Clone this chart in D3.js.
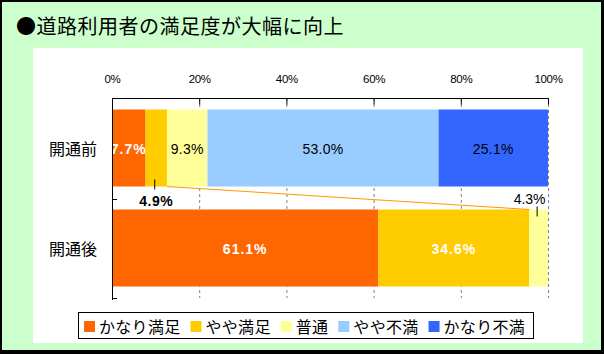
<!DOCTYPE html>
<html><head><meta charset="utf-8">
<script src="https://cdn.jsdelivr.net/npm/d3@7"></script>
<style>body{margin:0;padding:0;background:#fff}svg{display:block}</style>
</head><body>
<svg id="c" width="604" height="354"></svg>
<script>
const title = "●道路利用者の満足度が大幅に向上";
const categories = ["開通前", "開通後"];
const seriesNames = ["かなり満足", "やや満足", "普通", "やや不満", "かなり不満"];
const before = [7.7, 4.9, 9.3, 53.0, 25.1];
const after = [61.1, 34.6, 4.3, 0, 0];
const tickValues = [0, 20, 40, 60, 80, 100];
const tickLabels = ["0%", "20%", "40%", "60%", "80%", "100%"];
const colors = ["#FF6600", "#FFCC00", "#FFFF99", "#99CCFF", "#3366FF"];

const jp = "'Noto Sans CJK JP', 'Noto Sans', sans-serif";
const num = "'Liberation Sans', Arial, sans-serif";
const svg = d3.select("#c");

// background & border
svg.append("rect").attr("x",0).attr("y",0).attr("width",604).attr("height",354).attr("fill","#000");
svg.append("rect").attr("x",2).attr("y",2).attr("width",599).attr("height",348).attr("fill","#CCFFCC");
svg.append("rect").attr("x",33).attr("y",48).attr("width",550).attr("height",295).attr("fill","#fff");

svg.append("text").attr("x",16).attr("y",25).attr("dominant-baseline","central")
  .attr("font-family",jp).attr("font-size",20).attr("letter-spacing",0.5).attr("fill","#000").text(title);

const x = d3.scaleLinear().domain([0,100]).range([112,548]);
const y = d3.scaleBand().domain(categories).range([98,298]).paddingInner(0.23).paddingOuter(0.115);
const rows = [before, after];

// gridlines
const g = svg.append("g");
g.selectAll("line.grid").data(tickValues.slice(1)).join("line")
  .attr("x1",d=>x(d)+0.5).attr("x2",d=>x(d)+0.5).attr("y1",98).attr("y2",298)
  .attr("stroke","#808080").attr("stroke-dasharray","3,3").attr("stroke-width",1);

// bars
const stacks = rows.map(r => { let c=0; return r.map((v,i)=>{const s={cat:null,i,v,x0:c,x1:c+v}; c+=v; return s;}); });
stacks.forEach((st,ci)=>st.forEach(s=>s.cat=categories[ci]));
const barG = svg.append("g");
stacks.forEach(st=>{
  barG.selectAll(null).data(st.filter(s=>s.v>0)).join("rect")
    .attr("x",d=>x(d.x0)).attr("width",d=>x(d.x1)-x(d.x0))
    .attr("y",d=>y(d.cat)).attr("height",y.bandwidth())
    .attr("fill",d=>colors[d.i]);
});

// series line between やや満足 ends
const e1 = stacks[0][1].x1, e2 = stacks[1][1].x1;
svg.append("line").attr("x1",x(e1)).attr("y1",y(categories[0])+y.bandwidth())
  .attr("x2",x(e2)).attr("y2",y(categories[1])).attr("stroke","#FF9900").attr("stroke-width",1);

// axes
const topAxis = d3.axisTop(x).tickValues(tickValues).tickFormat((d,i)=>tickLabels[i]).tickSize(-6);
const ax = svg.append("g").attr("transform","translate(0,98.5)").call(topAxis);
ax.select(".domain").remove();
ax.append("line").attr("x1",112).attr("x2",548.5).attr("y1",0).attr("y2",0).attr("stroke","#000");
ax.selectAll(".tick line").attr("stroke","#000");
ax.selectAll(".tick text").attr("y",-20).attr("dy",0).attr("dominant-baseline","central")
  .attr("font-family",num).attr("font-size",11.5).attr("letter-spacing",-0.3).attr("fill","#000");

svg.append("line").attr("x1",112.5).attr("x2",112.5).attr("y1",98).attr("y2",300).attr("stroke","#000");
[199,298].forEach(v=>svg.append("line").attr("x1",112).attr("x2",117).attr("y1",v+0.5).attr("y2",v+0.5).attr("stroke","#000"));

// category labels
svg.selectAll("text.cat").data(categories).join("text")
  .attr("x",97).attr("y",d=>y(d)+y.bandwidth()/2).attr("text-anchor","end").attr("dominant-baseline","central")
  .attr("font-family",jp).attr("font-size",16).attr("fill","#000").text(d=>d);

// data labels
svg.append("clipPath").attr("id","pc").append("rect").attr("x",113).attr("y",98).attr("width",436).attr("height",200);
const lab = svg.append("g").attr("clip-path","url(#pc)");
const whiteBold = {"0-0":1,"1-0":1,"1-1":1};
const outside = {"0-1":"below","1-2":"above"};
stacks.forEach((st,ci)=>st.filter(s=>s.v>0).forEach(s=>{
  const key = ci+"-"+s.i;
  const cx = x((s.x0+s.x1)/2);
  const fmt = s.v.toFixed(1)+"%";
  if (outside[key]==="below") {
    const yb = y(s.cat)+y.bandwidth();
    svg.append("line").attr("x1",cx-1.5).attr("x2",cx-1.5).attr("y1",yb-7).attr("y2",yb+3).attr("stroke","#000");
    svg.append("text").attr("x",cx).attr("y",yb+14).attr("text-anchor","middle").attr("dominant-baseline","central")
      .attr("font-family",num).attr("font-weight","bold").attr("font-size",14).attr("letter-spacing",0.5).attr("fill","#000").text(fmt);
  } else if (outside[key]==="above") {
    const yt = y(s.cat);
    svg.append("line").attr("x1",cx-1.5).attr("x2",cx-1.5).attr("y1",yt-3).attr("y2",yt+7).attr("stroke","#000");
    svg.append("text").attr("x",cx-9).attr("y",yt-11).attr("text-anchor","middle").attr("dominant-baseline","central")
      .attr("font-family",num).attr("font-size",14).attr("fill","#000").text(fmt);
  } else {
    const wb = whiteBold[key];
    lab.append("text").attr("x",cx).attr("y",y(s.cat)+y.bandwidth()/2+1).attr("text-anchor","middle").attr("dominant-baseline","central")
      .attr("font-family",num).attr("font-size",14).attr("font-weight",wb?"bold":"normal")
      .attr("letter-spacing",wb?1:0.3).attr("fill",wb?"#fff":"#000").text(fmt);
  }
}));

// legend
const lg = svg.append("g");
lg.append("rect").attr("x",78.5).attr("y",312.5).attr("width",455).attr("height",26).attr("fill","#fff").attr("stroke","#000");
let lx = 84;
seriesNames.forEach((n,i)=>{
  lg.append("rect").attr("x",lx).attr("y",321).attr("width",11).attr("height",11).attr("fill",colors[i]);
  const t = lg.append("text").attr("x",lx+15).attr("y",326).attr("dominant-baseline","central")
    .attr("font-family",jp).attr("font-size",16).attr("letter-spacing",0.3).attr("fill","#000").text(n);
  lx = lx + 15 + t.node().getComputedTextLength() + 10;
});
</script>
</body></html>
